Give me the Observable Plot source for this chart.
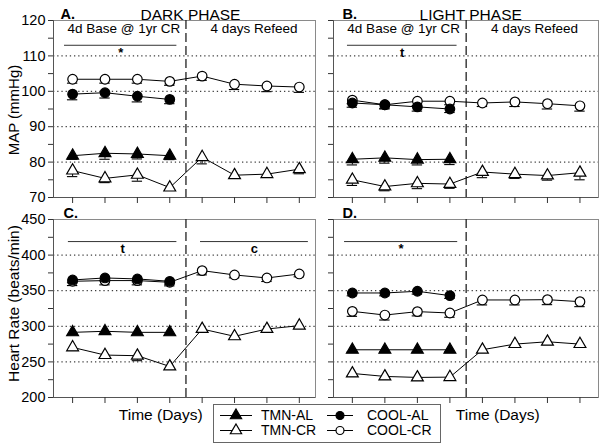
<!DOCTYPE html>
<html><head><meta charset="utf-8">
<script src="https://cdn.jsdelivr.net/npm/d3@7"></script>
<script src="https://cdn.jsdelivr.net/npm/@observablehq/plot@0.6"></script>
<style>
body{margin:0;background:#fff;font-family:"Liberation Sans",Arial,sans-serif;}
#root{position:relative;width:600px;height:447px;overflow:hidden;}
#root > *{position:absolute;}
</style></head><body><div id="root"></div>
<script>
// ---- data ----
const days = [1, 2, 3, 4, 5, 6, 7, 8];
const seriesNames = ["TMN-AL", "TMN-CR", "COOL-AL", "COOL-CR"];

// A. MAP, dark phase (means, then SEM)
const mapDarkTmnAl  = [81.8, 82.5, 82.3, 81.8];
const mapDarkTmnCr  = [77.6, 75.4, 76.4, 72.8, 81.4, 76.3, 76.6, 78.0];
const mapDarkCoolAl = [99.2, 99.6, 98.6, 97.7];
const mapDarkCoolCr = [103.4, 103.4, 103.4, 102.8, 104.3, 102.0, 101.5, 101.2];
const mapDarkTmnAlErr  = [1.0, 1.7, 1.4, 1.1];
const mapDarkTmnCrErr  = [1.7, 1.2, 1.8, 0.8, 1.9, 0.8, 0.8, 1.3];
const mapDarkCoolAlErr = [1.6, 1.5, 1.6, 1.2];
const mapDarkCoolCrErr = [1.1, 1.1, 1.1, 1.1, 1.2, 1.5, 1.6, 1.5];
// B. MAP, light phase
const mapLightTmnAl  = [80.8, 81.2, 80.7, 80.8];
const mapLightTmnCr  = [75.0, 73.1, 74.0, 73.8, 77.2, 76.6, 76.2, 77.0];
const mapLightCoolAl = [96.7, 96.2, 95.6, 95.0];
const mapLightCoolCr = [97.5, 96.2, 97.2, 97.2, 96.7, 97.0, 96.5, 95.9];
const mapLightTmnAlErr  = [1.6, 1.5, 1.5, 1.5];
const mapLightTmnCrErr  = [1.6, 1.2, 1.5, 1.2, 1.6, 1.2, 1.3, 2.0];
const mapLightCoolAlErr = [1.2, 1.2, 1.2, 1.0];
const mapLightCoolCrErr = [1.0, 1.0, 1.2, 1.0, 1.0, 1.3, 1.5, 1.5];
// C. Heart rate, dark phase
const hrDarkTmnAl  = [291.5, 293, 291.5, 291.5];
const hrDarkTmnCr  = [270.4, 259.6, 258.7, 243.6, 296.2, 285.9, 296.2, 300.9];
const hrDarkCoolAl = [365.1, 367.9, 366.5, 363.2];
const hrDarkCoolCr = [363.2, 364.2, 364.2, 361.8, 378.2, 372.1, 367.9, 373.5];
const hrDarkTmnAlErr  = [3, 3, 3, 3];
const hrDarkTmnCrErr  = [4, 4, 7, 3, 4, 4, 4, 3];
const hrDarkCoolAlErr = [4, 4, 4, 4];
const hrDarkCoolCrErr = [6, 6, 6, 5, 6, 4, 5, 4];
// D. Heart rate, light phase
const hrLightTmnAl  = [267, 267, 267, 267];
const hrLightTmnCr  = [233.8, 229.6, 228.2, 228.6, 267.1, 275.0, 278.3, 275.0];
const hrLightCoolAl = [346.8, 346.8, 349.2, 343.1];
const hrLightCoolCr = [321.0, 315.8, 320.6, 318.7, 337.0, 337.0, 337.4, 334.6];
const hrLightTmnAlErr  = [3, 3, 3, 3];
const hrLightTmnCrErr  = [4, 4, 4, 4, 4, 4, 4, 4];
const hrLightCoolAlErr = [4, 4, 4, 4];
const hrLightCoolCrErr = [7, 7, 6, 6, 7, 7, 7, 7];

// axis ticks
const mapTicks = [70, 80, 90, 100, 110, 120];
const mapMinor = [75, 85, 95, 105, 115];
const mapGrid = [80, 90, 100, 110];
const hrTicks = [200, 250, 300, 350, 400, 450];
const hrMinor = [225, 275, 325, 375, 425];
const hrGrid = [250, 300, 350, 400];

// significance bars: [start day, end day, label]
const sigA = [[0.75, 4.22, "*"]];
const sigB = [[0.85, 4.22, "t"]];
const sigC = [[0.87, 4.22, "t"], [4.95, 8.28, "c"]];
const sigD = [[0.76, 4.24, "*"]];

const phaseHeaders = ["4d Base @ 1yr CR", "4 days Refeed"];

// ---- drawing ----
const FONT = '"Liberation Sans", Arial, Helvetica, sans-serif';
const root = document.getElementById("root");
const rows = (vals, errs) => vals.map((v, i) => ({day: days[i], v, e: errs[i]}));

function panel(cfg) {
  const isMap = cfg.kind === "map";
  const yDomain = isMap ? [70, 120] : [200, 450];
  const ticks = isMap ? mapTicks : hrTicks;
  const minor = isMap ? mapMinor : hrMinor;
  const grid = isMap ? mapGrid : hrGrid;
  const sigY = isMap ? 113 : 419;
  const series = [
    {d: rows(cfg.data[1], cfg.err[1]), symbol: "triangle", fill: "white"},
    {d: rows(cfg.data[0], cfg.err[0]), symbol: "triangle", fill: "black"},
    {d: rows(cfg.data[3], cfg.err[3]), symbol: "circle", fill: "white"},
    {d: rows(cfg.data[2], cfg.err[2]), symbol: "circle", fill: "black"}
  ];
  const marks = [
    Plot.frame({stroke: "#8a8a8a"}),
    Plot.ruleY(grid, {stroke: "#111", strokeDasharray: "1.3,2.9"}),
    Plot.ruleX([4.5], {stroke: "#222", strokeWidth: 1.3, strokeDasharray: "9,4"}),
    Plot.ruleX([cfg.xDomain[0]], {stroke: "#555"}),
    Plot.ruleY([yDomain[0]], {stroke: "#555"}),
    Plot.axisY(ticks, {anchor: "left", tickSize: 5, tickPadding: 3, stroke: "#333",
      tickFormat: cfg.yLabels ? (d => d) : (() => ""), fontSize: 14.5, label: null}),
    Plot.axisY(minor, {anchor: "left", tickSize: 5, stroke: "#333", tickFormat: () => "", label: null}),
    Plot.axisX(days, {anchor: "bottom", tickSize: 6, stroke: "#333", tickFormat: () => "", label: null}),
    Plot.ruleY(cfg.sig, {x1: d => d[0], x2: d => d[1], y: () => sigY, stroke: "#333"}),
    Plot.text(cfg.sig, {x: d => (d[0] + d[1]) / 2, y: () => sigY, text: d => d[2], fontWeight: "bold",
      fontSize: 13, lineAnchor: "top", dy: 2})
  ];
  if (cfg.yTitle) {
    marks.push(Plot.text([cfg.yTitle], {text: d => d, frameAnchor: "left", rotate: -90, dx: -39, dy: cfg.yTitleDy,
      lineAnchor: "middle", textAnchor: "middle", fontSize: cfg.yTitleSize}));
  }
  for (const s of series) {
    marks.push(Plot.ruleX(s.d, {x: "day", y1: d => d.v - d.e, y2: "v", stroke: "black", strokeWidth: 1}));
    marks.push(Plot.ruleY(s.d, {x1: d => d.day - 0.16, x2: d => d.day + 0.16, y: d => d.v - d.e,
      stroke: "black", strokeWidth: 1.1}));
  }
  for (const s of series) {
    marks.push(Plot.line(s.d, {x: "day", y: "v", stroke: "black", strokeWidth: 1}));
  }
  for (const s of series) {
    marks.push(Plot.dot(s.d, {x: "day", y: "v", symbol: () => s.symbol, fill: s.fill, stroke: "black",
      strokeWidth: 1.2, r: s.symbol === "circle" ? 4.8 : 4.4}));
  }
  if (cfg.headers) {
    marks.push(Plot.text([[2.58, phaseHeaders[0]], [6.6, phaseHeaders[1]]],
      {x: d => d[0], text: d => d[1], frameAnchor: "top", dy: 8, fontSize: 13.5, lineAnchor: "middle"}));
  }
  if (cfg.title) {
    marks.push(Plot.text([cfg.title], {x: () => 4.64, text: d => d, frameAnchor: "top", lineAnchor: "bottom",
      dy: -1, fontSize: 15.5}));
  }
  marks.push(Plot.text([cfg.letter], {x: () => cfg.letterX, text: d => d, frameAnchor: "top", lineAnchor: "bottom",
    textAnchor: "start", dy: -2, fontSize: 14.5, fontWeight: "bold"}));
  if (cfg.xTitle) {
    marks.push(Plot.text(["Time (Days)"], {x: () => cfg.xTitle, text: d => d, frameAnchor: "bottom",
      lineAnchor: "middle", dy: 18, fontSize: 15.5}));
  }
  const svg = Plot.plot({
    width: cfg.width, height: cfg.height,
    marginLeft: cfg.mL, marginRight: cfg.mR, marginTop: cfg.mT, marginBottom: cfg.mB,
    x: {domain: cfg.xDomain, axis: null},
    y: {domain: yDomain, axis: null},
    style: {fontFamily: FONT, fontSize: "14px", background: "transparent", overflow: "visible", color: "black"},
    marks
  });
  svg.style.left = cfg.left + "px";
  svg.style.top = cfg.top + "px";
  root.appendChild(svg);
}

panel({kind: "map", left: 0, top: 0, width: 320, height: 230, mL: 53, mR: 5, mT: 20, mB: 33,
  xDomain: [0.41, 8.5], yLabels: true, yTitle: "MAP (mmHg)", yTitleSize: 15, yTitleDy: 1,
  data: [mapDarkTmnAl, mapDarkTmnCr, mapDarkCoolAl, mapDarkCoolCr],
  err: [mapDarkTmnAlErr, mapDarkTmnCrErr, mapDarkCoolAlErr, mapDarkCoolCrErr], sig: sigA,
  headers: true, title: "DARK PHASE", letter: "A.", letterX: 0.63});
panel({kind: "map", left: 320, top: 0, width: 280, height: 230, mL: 13, mR: 2, mT: 20, mB: 33,
  xDomain: [0.42, 8.57], yLabels: false,
  data: [mapLightTmnAl, mapLightTmnCr, mapLightCoolAl, mapLightCoolCr],
  err: [mapLightTmnAlErr, mapLightTmnCrErr, mapLightCoolAlErr, mapLightCoolCrErr], sig: sigB,
  headers: true, title: "LIGHT PHASE", letter: "B.", letterX: 0.7});
panel({kind: "hr", left: 0, top: 200, width: 320, height: 247, mL: 53, mR: 5, mT: 19, mB: 50,
  xDomain: [0.41, 8.5], yLabels: true, yTitle: "Heart Rate (beats/min)", yTitleSize: 15.5, yTitleDy: -5,
  data: [hrDarkTmnAl, hrDarkTmnCr, hrDarkCoolAl, hrDarkCoolCr],
  err: [hrDarkTmnAlErr, hrDarkTmnCrErr, hrDarkCoolAlErr, hrDarkCoolCrErr], sig: sigC,
  headers: false, letter: "C.", letterX: 0.72, xTitle: 3.72});
panel({kind: "hr", left: 320, top: 200, width: 280, height: 247, mL: 13, mR: 2, mT: 19, mB: 50,
  xDomain: [0.42, 8.57], yLabels: false,
  data: [hrLightTmnAl, hrLightTmnCr, hrLightCoolAl, hrLightCoolCr],
  err: [hrLightTmnAlErr, hrLightTmnCrErr, hrLightCoolAlErr, hrLightCoolCrErr], sig: sigD,
  headers: false, letter: "D.", letterX: 0.7, xTitle: 5.47});

// legend
const legendItems = [
  {name: seriesNames[0], col: 0, row: 0, symbol: d3.symbolTriangle, fill: "black"},
  {name: seriesNames[1], col: 0, row: 1, symbol: d3.symbolTriangle, fill: "white"},
  {name: seriesNames[2], col: 1, row: 0, symbol: d3.symbolCircle, fill: "black"},
  {name: seriesNames[3], col: 1, row: 1, symbol: d3.symbolCircle, fill: "white"}
];
const leg = d3.create("svg").attr("width", 228).attr("height", 39)
  .style("left", "213px").style("top", "404px");
leg.append("rect").attr("x", 0.5).attr("y", 0.5).attr("width", 227).attr("height", 38)
  .attr("fill", "white").attr("stroke", "#666");
const g = leg.selectAll("g").data(legendItems).join("g")
  .attr("transform", d => `translate(${d.col === 0 ? 7 : 114},${d.row === 0 ? 11.5 : 26.5})`);
g.append("line").attr("x1", 0).attr("x2", d => d.col === 0 ? 32 : 26).attr("stroke", "black");
g.append("path").attr("d", d => d3.symbol(d.symbol, d.symbol === d3.symbolCircle ? 50 : 55)())
  .attr("transform", d => `translate(${d.col === 0 ? 16 : 13},0)`)
  .attr("fill", d => d.fill).attr("stroke", "black").attr("stroke-width", 1.2);
g.append("text").attr("x", d => d.col === 0 ? 41 : 40).attr("dy", "0.35em")
  .attr("font-family", FONT).attr("font-size", 14).text(d => d.name);
root.appendChild(leg.node());
</script></body></html>
